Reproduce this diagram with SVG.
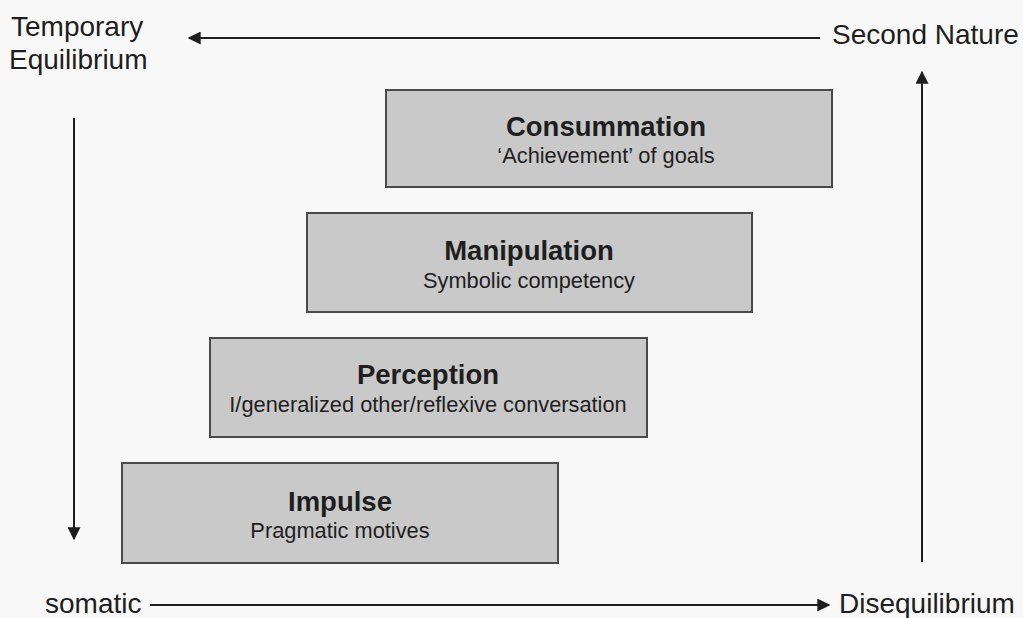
<svg xmlns="http://www.w3.org/2000/svg" width="1023" height="618" viewBox="0 0 1023 618">
<defs>
<style>
.lbl{font-family:"Liberation Sans",Arial,sans-serif;fill:#1e1e1e;font-size:28px}
.box{fill:#c9c9c9;stroke:#4a4a4a;stroke-width:2}
.t{font-family:"Liberation Sans",Arial,sans-serif;font-weight:bold;font-size:27.5px;fill:#1e1e1e;text-anchor:middle}
.s{font-family:"Liberation Sans",Arial,sans-serif;font-size:21.8px;fill:#1e1e1e;text-anchor:middle}
.ln{stroke:#1e1e1e;stroke-width:2;fill:none;marker-end:url(#ah)}
</style>
<marker id="ah" viewBox="0 0 10 10" refX="9" refY="5" markerWidth="6.5" markerHeight="6.5" markerUnits="strokeWidth" orient="auto">
<path d="M0,0 L10,5 L0,10 z" fill="#1e1e1e"/>
</marker>
</defs>
<rect width="1023" height="618" fill="#f8f8f8"/>
<g id="connectors">
<line class="ln" x1="820" y1="38" x2="189" y2="38"/>
<line class="ln" x1="922" y1="562" x2="922" y2="72"/>
<line class="ln" x1="74" y1="118" x2="74" y2="539"/>
<line class="ln" x1="150" y1="605" x2="829" y2="605"/>
</g>
<g id="labels">
<text class="lbl" x="11" y="36">Temporary</text>
<text class="lbl" x="9" y="69">Equilibrium</text>
<text class="lbl" x="832" y="44">Second Nature</text>
<text class="lbl" x="45" y="613">somatic</text>
<text class="lbl" x="839" y="613">Disequilibrium</text>
</g>
<g id="consummation">
<rect class="box" x="386" y="90" width="446" height="97"/>
<text class="t" x="606" y="136">Consummation</text>
<text class="s" x="606" y="163">‘Achievement’ of goals</text>
</g>
<g id="manipulation">
<rect class="box" x="307" y="213" width="445" height="99"/>
<text class="t" x="529" y="260">Manipulation</text>
<text class="s" x="529" y="288">Symbolic competency</text>
</g>
<g id="perception">
<rect class="box" x="210" y="338" width="437" height="99"/>
<text class="t" x="428" y="384">Perception</text>
<text class="s" x="428" y="412">I/generalized other/reflexive conversation</text>
</g>
<g id="impulse">
<rect class="box" x="122" y="463" width="436" height="100"/>
<text class="t" x="340" y="511">Impulse</text>
<text class="s" x="340" y="538">Pragmatic motives</text>
</g>
</svg>
